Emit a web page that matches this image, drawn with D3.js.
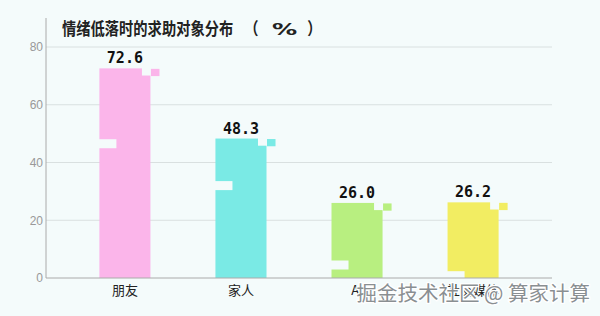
<!DOCTYPE html>
<html>
<head>
<meta charset="utf-8">
<script src="https://cdn.jsdelivr.net/npm/d3@7"></script>
<style>
  body { margin: 0; background: #f4fbfb; }
  svg { display: block; }
</style>
</head>
<body>
<div id="chart"></div>
<script>
// chart data
const categories = ["朋友", "家人", "AI", "社交媒体"];
const values = [72.6, 48.3, 26.0, 26.2];
const yTicks = [0, 20, 40, 60, 80];
const barColors = ["#fbb5ea", "#7aeae5", "#b8ef80", "#f2ed62"];
// level (in %) of the little white notch on each bar's left side
const notchLevels = [46.5, 32, 4.5, 0.8];

const width = 600, height = 316;
const bg = "#f4fbfb";
const margin = {top: 47, right: 48, bottom: 38, left: 46};

const svg = d3.select("#chart").append("svg")
    .attr("width", width).attr("height", height);

svg.append("rect").attr("width", width).attr("height", height).attr("fill", bg);

const x = d3.scaleBand()
    .domain(categories)
    .range([margin.left, width - margin.right])
    .paddingInner(0.56)
    .paddingOuter(0.46);

const y = d3.scaleLinear()
    .domain([0, 80])
    .range([height - margin.bottom, margin.top]);

// gridlines
svg.append("g")
    .selectAll("line")
    .data(yTicks.filter(d => d > 0))
    .join("line")
    .attr("x1", margin.left).attr("x2", width - margin.right)
    .attr("y1", d => y(d)).attr("y2", d => y(d))
    .attr("stroke", "#d9e0e0").attr("stroke-width", 1);

// y axis
const yAxis = svg.append("g")
    .attr("transform", `translate(${margin.left},0)`)
    .call(d3.axisLeft(y).tickValues(yTicks).tickSize(0).tickPadding(3));
yAxis.select(".domain").remove();
yAxis.selectAll("text").attr("fill", "#999").style("font", "12px 'Liberation Sans', Arial, sans-serif");
svg.append("line")
    .attr("x1", margin.left).attr("x2", margin.left)
    .attr("y1", 18).attr("y2", y(0))
    .attr("stroke", "#aaa");

// bars
const bw = x.bandwidth();
const cell = bw / 6;
const bars = svg.append("g").selectAll("g")
    .data(categories.map((c, i) => ({c, v: values[i], color: barColors[i], notch: notchLevels[i]})))
    .join("g");

bars.append("rect")
    .attr("x", d => x(d.c)).attr("y", d => y(d.v))
    .attr("width", bw).attr("height", d => y(0) - y(d.v))
    .attr("fill", d => d.color);

// pixel decorations
bars.append("rect")
    .attr("x", d => x(d.c) + bw - cell).attr("y", d => y(d.v) - 0.5)
    .attr("width", cell + 0.5).attr("height", cell * 0.9)
    .attr("fill", bg);
bars.append("rect")
    .attr("x", d => x(d.c) + bw + 0.5).attr("y", d => y(d.v) + 0.5)
    .attr("width", cell).attr("height", cell * 0.85)
    .attr("fill", d => d.color);
bars.append("rect")
    .attr("x", d => x(d.c) - 1).attr("y", d => y(d.notch) - 4.5)
    .attr("width", cell * 2 + 1).attr("height", d => Math.min(9, y(0) - y(d.notch) + 4.5))
    .attr("fill", bg);

// value labels
bars.append("text")
    .attr("x", d => x(d.c) + bw / 2)
    .attr("y", d => y(d.v) - 5)
    .attr("text-anchor", "middle")
    .attr("fill", "#111")
    .style("font", "bold 15px 'DejaVu Sans Mono', monospace")
    .text(d => d.v.toFixed(1));

// x axis
svg.append("line")
    .attr("x1", margin.left).attr("x2", width - margin.right)
    .attr("y1", y(0)).attr("y2", y(0))
    .attr("stroke", "#aaa");

svg.append("g").selectAll("text")
    .data(categories)
    .join("text")
    .attr("x", d => x(d) + bw / 2)
    .attr("y", y(0) + 17)
    .attr("text-anchor", "middle")
    .attr("fill", "#222")
    .style("font", "13px 'Noto Sans CJK SC', sans-serif")
    .text(d => d);

// title (glyphs are a bit condensed in the original)
const title = svg.append("text")
    .attr("transform", "translate(62,35) scale(0.84,1)")
    .attr("fill", "#222")
    .style("font", "bold 17px 'Noto Sans CJK SC', sans-serif");
title.append("tspan").text("情绪低落时的求助对象分布");
title.append("tspan").attr("x", 217).text("（");
title.append("tspan").attr("x", 250)
    .style("font", "900 15px 'DejaVu Sans', sans-serif")
    .attr("textLength", 30).attr("lengthAdjust", "spacingAndGlyphs")
    .text("%");
title.append("tspan").attr("x", 292).text("）");

// watermark
svg.append("text")
    .attr("x", 590).attr("y", 301)
    .attr("text-anchor", "end")
    .attr("fill", "#8a8f92")
    .attr("stroke", "#ffffff").attr("stroke-width", 2.5)
    .attr("paint-order", "stroke")
    .style("font", "20.5px 'Noto Sans CJK SC', sans-serif")
    .text("掘金技术社区 @ 算家计算");
</script>
</body>
</html>
